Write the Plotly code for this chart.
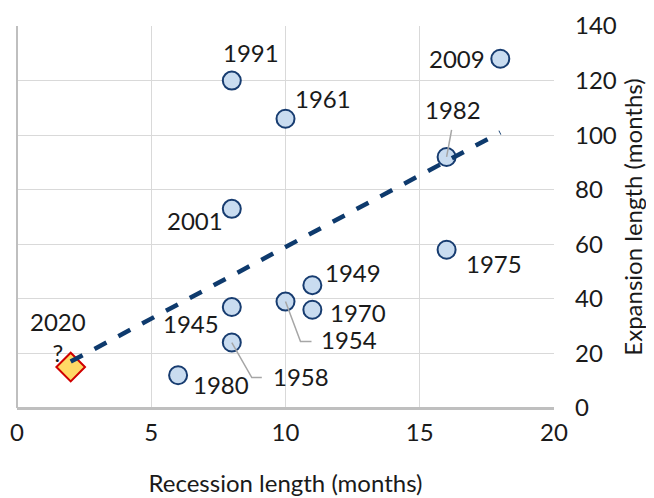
import plotly.graph_objects as go

# Data
years = ["1945", "1949", "1954", "1958", "1961", "1970", "1975", "1980", "1982", "1991", "2001", "2009"]
recession = [8, 11, 10, 8, 10, 11, 16, 6, 16, 8, 8, 18]
expansion = [37, 45, 39, 24, 106, 36, 58, 12, 92, 120, 73, 128]

current_year = "2020"
current_recession = [2]
current_expansion = [15]

trend_x = [2, 18]
trend_y = [17, 101]

# label placement offsets (pixels: dx right, dy up)
label_offsets = {
    "1945": (-41, -16), "1949": (41, 13), "1954": (63, -38), "1958": (69, -34),
    "1961": (37, 20), "1970": (46, -3), "1975": (47, -14), "1980": (43, -9),
    "1982": (6, 47), "1991": (19, 28), "2001": (-37, -12), "2009": (-43, 0),
}
PX_X = 537 / 20.0
PX_Y = 382 / 140.0
# leader lines: pixel offsets from the point
leaders = {
    "1954": [(0, 0), (15, -40), (26, -40)],
    "1958": [(0, 0), (20, -35), (30, -35)],
    "1982": [(0, 0), (5, 27)],
}

FONT = "Lato"
FS = 24
fig = go.Figure()

fig.add_trace(go.Scatter(
    x=recession, y=expansion, mode="markers",
    marker=dict(symbol="circle", size=18, color="#c9dcf0",
                line=dict(color="#173c70", width=2)),
    hoverinfo="skip", showlegend=False))

fig.add_trace(go.Scatter(
    x=current_recession, y=current_expansion, mode="markers",
    marker=dict(symbol="diamond", size=22, color="#ffd966",
                line=dict(color="#d00000", width=2)),
    hoverinfo="skip", showlegend=False))

for yr, pts in leaders.items():
    i = years.index(yr)
    x0, y0 = recession[i], expansion[i]
    fig.add_trace(go.Scatter(
        x=[x0 + dx / PX_X for dx, dy in pts],
        y=[y0 + dy / PX_Y for dx, dy in pts],
        mode="lines", line=dict(color="#a6a6a6", width=1.5),
        hoverinfo="skip", showlegend=False))

fig.add_trace(go.Scatter(
    x=trend_x, y=trend_y, mode="lines",
    line=dict(color="#0e3a6d", width=4.5, dash="dash"),
    hoverinfo="skip", showlegend=False))

annotations = []
for yr, xv, yv in zip(years, recession, expansion):
    dx, dy = label_offsets[yr]
    annotations.append(dict(x=xv, y=yv, text=yr, showarrow=False,
                            xshift=dx, yshift=dy,
                            font=dict(family=FONT, size=FS, color="#1a1a1a")))
annotations.append(dict(x=current_recession[0], y=current_expansion[0],
                        text=current_year + "<br>?",
                        showarrow=False, xshift=-13, yshift=30,
                        font=dict(family=FONT, size=FS, color="#1a1a1a")))

fig.update_layout(
    width=654, height=498,
    margin=dict(l=9, r=108, t=18, b=98),
    paper_bgcolor="white", plot_bgcolor="white",
    font=dict(family=FONT, size=FS, color="#1a1a1a"),
    annotations=annotations,
    xaxis=dict(range=[0, 20], dtick=5, showgrid=True, gridcolor="#d9d9d9", gridwidth=1,
               zeroline=True, zerolinecolor="#bfbfbf", zerolinewidth=2, automargin=False,
               showline=False, ticks="", ticklabelstandoff=8,
               title=dict(text="Recession length (months)", standoff=30,
                          font=dict(family=FONT, size=FS))),
    yaxis=dict(range=[0, 140], dtick=20, side="right", showgrid=True, gridcolor="#d9d9d9",
               gridwidth=1, zeroline=True, zerolinecolor="#bfbfbf", zerolinewidth=2.5,
               automargin=False,
               showline=False, ticks="", ticklabelstandoff=20,
               title=dict(text="Expansion length (months)", standoff=9,
                          font=dict(family=FONT, size=FS))),
)

fig.write_html("out.html")
